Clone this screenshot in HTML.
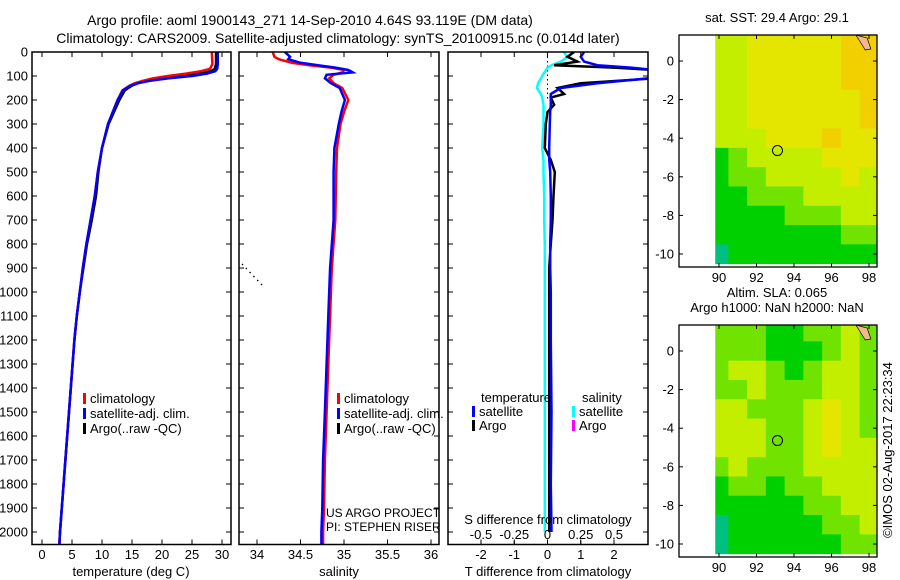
<!DOCTYPE html>
<html><head><meta charset="utf-8">
<style>
html,body{margin:0;padding:0;background:#fff;}
svg{display:block;font-family:"Liberation Sans",sans-serif;}
</style></head>
<body>
<svg id="chart" width="900" height="580" viewBox="0 0 900 580" xmlns="http://www.w3.org/2000/svg">
<g font-size="14" text-anchor="middle" fill="#000">
<text x="310" y="25">Argo profile: aoml 1900143_271 14-Sep-2010 4.64S 93.119E (DM data)</text>
<text x="338" y="43">Climatology: CARS2009. Satellite-adjusted climatology: synTS_20100915.nc (0.014d later)</text>
</g>
<g id="p1"></g>
<g id="p2"></g>
<g id="p3"></g>
<g id="m1"></g>
<g id="m2"></g>
<text transform="translate(892,450) rotate(-90)" font-size="13" text-anchor="middle">©IMOS 02-Aug-2017 22:23:34</text>
</svg>
<script>
// ---- data ----
const depthTicks = [0,100,200,300,400,500,600,700,800,900,1000,1100,1200,1300,1400,1500,1600,1700,1800,1900,2000];
const tempTicks = [0,5,10,15,20,25,30];
const salTicks = [34,34.5,35,35.5,36];
const salTickLabels = ['34','34.5','35','35.5','36'];
const tdiffTicks = [-2,-1,0,1,2];
const sdiffTicks = [-0.5,-0.25,0,0.25,0.5];
const sdiffTickLabels = ['-0.5','-0.25','0','0.25','0.5'];

const tDepth = [0,50,70,80,90,100,110,120,130,140,160,200,250,300,400,500,600,700,800,900,1000,1100,1200,1300,1400,1500,1600,1700,1800,1900,2000,2050];
const tClim  = [28.3,28.4,28.0,26.5,24,21,18.5,16.8,15.5,14.6,13.4,12.6,11.8,11.0,10.0,9.3,8.8,8.1,7.4,6.8,6.3,5.8,5.4,5.1,4.8,4.5,4.2,3.9,3.6,3.3,3.0,2.9];
const tSat   = [29.3,29.3,29.2,28.9,27.5,25,21,18,16,14.8,13.5,12.6,11.8,11.0,10.0,9.3,8.8,8.1,7.4,6.8,6.3,5.8,5.4,5.1,4.8,4.5,4.2,3.9,3.6,3.3,3.0,2.9];
const tArgo  = [29.0,29.0,28.8,28.2,26.5,23.5,20,17.5,16,15,13.8,12.9,12.0,11.1,10.0,9.4,9.0,8.3,7.5,6.9,6.3,5.8,5.4,5.1,4.8,4.5,4.2,3.9,3.6,3.3,3.0,2.9];

const sDepth = [0,20,30,45,55,65,75,85,95,110,130,150,200,250,300,400,500,700,900,1100,1300,1500,1700,1900,2000,2050];
const sClim  = [34.18,34.2,34.25,34.4,34.6,34.85,35.0,34.98,34.88,34.83,34.88,34.98,35.05,35.0,34.96,34.92,34.91,34.9,34.86,34.84,34.82,34.8,34.78,34.77,34.76,34.76];
const sSat   = [34.32,34.38,34.36,34.5,34.7,34.9,35.05,35.1,34.8,34.78,34.85,34.95,35.01,34.97,34.94,34.89,34.88,34.88,34.84,34.82,34.8,34.78,34.76,34.75,34.74,34.74];

const dDepth = [0,20,40,55,65,75,90,110,130,150,175,190,220,250,300,400,450,500,600,700,800,900,1000,1200,1500,1800,2000];
const dTSat  = [1.1,1.0,1.1,1.5,2.5,3.2,3.2,3.0,1.5,0.4,0.1,0.1,0.1,0.08,0.07,0.05,0.05,0.08,0.1,0.1,0.08,0.08,0.1,0.1,0.12,0.1,0.12];
const dTArgo = [0.8,0.6,0.9,0.2,2.0,3.2,3.2,3.2,1.0,0.3,0.5,0.1,0.2,0.0,-0.05,-0.08,0.1,0.22,0.18,0.15,0.1,0.05,0.05,0.05,0.05,0.05,0.05];
const dSSat  = [0.12,0.15,0.1,0.03,0.0,-0.01,-0.03,-0.05,-0.07,-0.08,-0.05,-0.04,-0.03,-0.03,-0.03,-0.04,-0.03,-0.03,-0.025,-0.025,-0.02,-0.02,-0.02,-0.02,-0.02,-0.02,-0.02];

const lonTicks = [90,92,94,96,98];
const latTicks = [0,-2,-4,-6,-8,-10];
const mapLons = [90,91,92,93,94,95,96,97,98];
const mapLats = [1,0,-1,-2,-3,-4,-5,-6,-7,-8,-9,-10];
const sstGrid = [
 [3,3,4,4,4,4,4,5,5],
 [3,3,4,4,4,4,4,5,5],
 [3,3,4,4,4,4,4,5,5],
 [3,3,4,4,4,4,4,4,5],
 [3,3,4,4,4,4,4,4,5],
 [3,3,3,4,4,4,5,4,4],
 [1,2,3,3,3,3,4,4,4],
 [1,2,2,3,3,3,3,4,3],
 [1,1,2,2,2,3,3,3,3],
 [1,1,1,1,2,2,2,3,3],
 [1,1,1,1,1,1,1,2,2],
 [0,1,1,1,1,1,1,1,1]];
const slaGrid = [
 [2,2,2,1,1,2,2,3,2],
 [2,2,2,1,1,1,2,3,2],
 [2,3,3,2,1,2,3,3,2],
 [2,2,3,2,2,2,3,3,2],
 [3,3,2,2,2,3,4,3,2],
 [3,3,3,2,2,3,4,3,2],
 [3,3,3,2,2,3,4,3,3],
 [2,3,2,2,2,3,3,3,3],
 [1,2,2,1,2,2,3,3,3],
 [1,1,1,1,1,2,2,3,3],
 [0,1,1,1,1,1,2,2,3],
 [0,1,1,1,1,1,1,2,2]];
const argoLon = 93.119, argoLat = -4.64;

// ---- helpers ----
const NS='http://www.w3.org/2000/svg';
function mk(parent,tag,attrs){const e=document.createElementNS(NS,tag);for(const k in attrs)e.setAttribute(k,attrs[k]);parent.appendChild(e);return e;}
function lin(d0,d1,r0,r1){return v=>r0+(v-d0)*(r1-r0)/(d1-d0);}
const yD = lin(0,2000,52,532);
const TOP=52,BOT=544.5;

function frame(g,x0,x1,name){
  const r=mk(g,'rect',{x:x0,y:TOP,width:x1-x0,height:BOT-TOP,fill:'none',stroke:'#000','stroke-width':1.5});
  
  
}
function yTicks(g,x0,x1,labels){
  depthTicks.forEach(d=>{
    const y=yD(d);
    mk(g,'line',{x1:x0,x2:x0+5,y1:y,y2:y,stroke:'#000'});
    mk(g,'line',{x1:x1-5,x2:x1,y1:y,y2:y,stroke:'#000'});
    if(labels){const t=mk(g,'text',{x:x0-4,y:y+4.5,'font-size':13,'text-anchor':'end'});t.textContent=d;
      
      }
  });
}
function xTicks(g,ticks,labs,sx,ybase,showLab){
  ticks.forEach((v,i)=>{
    const x=sx(v);
    mk(g,'line',{x1:x,x2:x,y1:BOT,y2:BOT-5,stroke:'#000'});
    mk(g,'line',{x1:x,x2:x,y1:TOP,y2:TOP+5,stroke:'#000'});
    if(showLab){const t=mk(g,'text',{x:x,y:ybase,'font-size':13,'text-anchor':'middle'});t.textContent=labs[i];
      
      }
  });
}
function line(g,xs,ds,sx,color,name,w){
  const pts=xs.map((v,i)=>sx(v).toFixed(1)+','+yD(ds[i]).toFixed(1)).join(' ');
  const p=mk(g,'polyline',{points:pts,fill:'none',stroke:color,'stroke-width':w||2.5});
  
  
}
function legend(g,x,y,color,label){
  mk(g,'rect',{x:x,y:y-10,width:3,height:11,fill:color});
  const t=mk(g,'text',{x:x+7,y:y,'font-size':13});t.textContent=label;
  
  
}
function txt(g,x,y,s,anchor,name,size){
  const t=mk(g,'text',{x:x,y:y,'font-size':size||13,'text-anchor':anchor||'start'});t.textContent=s;
  
  
}

// ---- panel 1: temperature ----
const p1=document.getElementById('p1');
const sT=lin(0,30,42,222);
const clip1=mk(p1,'clipPath',{id:'c1'});mk(clip1,'rect',{x:32,y:TOP,width:199,height:BOT-TOP});
const g1=mk(p1,'g',{'clip-path':'url(#c1)'});
line(g1,tArgo,tDepth,sT,'#000','temp-argo-line');
line(g1,tClim,tDepth,sT,'#f00','temp-climatology-line');
line(g1,tSat,tDepth,sT,'#00f','temp-satellite-line');
frame(p1,32,231,'temperature-axes-frame');
yTicks(p1,32,231,true);
xTicks(p1,tempTicks,tempTicks,sT,559,true);
txt(p1,131,576,'temperature (deg C)','middle','temperature-axis-title');
legend(p1,83,403,'#f00','climatology');
legend(p1,83,418,'#00f','satellite-adj. clim.');
legend(p1,83,433,'#000','Argo(..raw -QC)');

// ---- panel 2: salinity ----
const p2=document.getElementById('p2');
const sS=lin(34,36,257,431);
const clip2=mk(p2,'clipPath',{id:'c2'});mk(clip2,'rect',{x:239,y:TOP,width:200,height:BOT-TOP});
const g2=mk(p2,'g',{'clip-path':'url(#c2)'});
line(g2,sClim,sDepth,sS,'#f00','salinity-climatology-line');
line(g2,sSat,sDepth,sS,'#00f','salinity-satellite-line');
mk(p2,'line',{x1:242,y1:264,x2:263,y2:286,stroke:'#000','stroke-width':1.3,'stroke-dasharray':'1.5 4'});
frame(p2,239,439,'salinity-axes-frame');
yTicks(p2,239,439,false);
xTicks(p2,salTicks,salTickLabels,sS,559,true);
txt(p2,339,576,'salinity','middle','salinity-axis-title');
legend(p2,337,403,'#f00','climatology');
legend(p2,337,418,'#00f','satellite-adj. clim.');
legend(p2,337,433,'#000','Argo(..raw -QC)');
txt(p2,326,517,'US ARGO PROJECT','start','project-label',12);
txt(p2,326,531,'PI: STEPHEN RISER','start','pi-label',12);

// ---- panel 3: differences ----
const p3=document.getElementById('p3');
const sTd=lin(-2,2,481,614);
const sSd=lin(-0.5,0.5,481,614);
const clip3=mk(p3,'clipPath',{id:'c3'});mk(clip3,'rect',{x:448,y:TOP,width:200,height:BOT-TOP});
const g3=mk(p3,'g',{'clip-path':'url(#c3)'});
mk(g3,'line',{x1:sTd(0),x2:sTd(0),y1:TOP,y2:yD(200),stroke:'#000','stroke-dasharray':'1.5 3'});
line(g3,dSSat,dDepth,sSd,'#0ff','s-diff-satellite-line');
line(g3,dTArgo,dDepth,sTd,'#000','t-diff-argo-line');
line(g3,dTSat,dDepth,sTd,'#00f','t-diff-satellite-line');
frame(p3,448,648,'difference-axes-frame');
yTicks(p3,448,648,false);
xTicks(p3,tdiffTicks,tdiffTicks,sTd,559,true);
sdiffTicks.forEach((v,i)=>{const x=sSd(v);mk(p3,'line',{x1:x,x2:x,y1:BOT,y2:BOT-4,stroke:'#000'});
  txt(p3,x,539,sdiffTickLabels[i],'middle','s-diff-tick-label');});
txt(p3,548,524,'S difference from climatology','middle','s-diff-axis-title');
txt(p3,548,576,'T difference from climatology','middle','t-diff-axis-title');
txt(p3,481,402,'temperature','start','legend-temperature-heading');
txt(p3,582,402,'salinity','start','legend-salinity-heading');
legend(p3,472,416,'#00f','satellite');
legend(p3,472,430,'#000','Argo');
legend(p3,572,416,'#0ff','satellite');
legend(p3,572,430,'#f0f','Argo');

// ---- maps ----
const palette=['#00c080','#00d000','#70e400','#c4ee00','#e4e600','#f2d000','#f0b400'];
function drawMap(id,grid,y0,titleLines,name){
  const g=document.getElementById(id);
  const X=lin(90,98,719,869);
  const Y=lin(0,-10,y0+26,y0+219);
  const x0=679,x1=877,yt=y0,yb=y0+232;
  const cl=mk(g,'clipPath',{id:'cl'+id});mk(cl,'rect',{x:x0,y:yt,width:x1-x0,height:yb-yt});
  const gg=mk(g,'g',{'clip-path':'url(#cl'+id+')'});
  grid.forEach((row,r)=>row.forEach((v,c)=>{
    const lon=mapLons[c],lat=mapLats[r];
    const xa=Math.max(X(lon-0.5),X(89.8)), xb=X(lon+0.5);
    const rc=mk(gg,'rect',{x:xa,y:Y(lat+0.5),width:xb-xa+0.5,height:Y(lat-0.5)-Y(lat+0.5)+0.5,fill:palette[v]});
    
    
  }));
  mk(gg,'path',{d:`M${X(97.3)},${yt} L${X(97.9)},${yt+3} L${X(98.1)},${yt+14} L${X(97.8)},${yt+15} L${X(97.5)},${yt+6} Z`,fill:'#f4b88c',stroke:'#000','stroke-width':0.7});
  const c=mk(g,'circle',{cx:X(argoLon),cy:Y(argoLat),r:5,fill:'none',stroke:'#000','stroke-width':1});
  
  
  const fr=mk(g,'rect',{x:x0,y:yt,width:x1-x0,height:yb-yt,fill:'none',stroke:'#000','stroke-width':1.3});
  
  
  lonTicks.forEach(v=>{const x=X(v);mk(g,'line',{x1:x,x2:x,y1:yb,y2:yb-4,stroke:'#000'});mk(g,'line',{x1:x,x2:x,y1:yt,y2:yt+4,stroke:'#000'});
    txt(g,x,yb+15,String(v),'middle','lon-tick-label');});
  latTicks.forEach(v=>{const y=Y(v);mk(g,'line',{x1:x0,x2:x0+4,y1:y,y2:y,stroke:'#000'});mk(g,'line',{x1:x1-4,x2:x1,y1:y,y2:y,stroke:'#000'});
    txt(g,x0-5,y+4.5,String(v),'end','lat-tick-label');});
  titleLines.forEach((s,i)=>txt(g,777,yt-13-(titleLines.length-1-i)*15,s,'middle',name+'-title'));
}
drawMap('m1',sstGrid,35,['sat. SST: 29.4  Argo: 29.1'],'sst-map');
drawMap('m2',slaGrid,325,['Altim. SLA: 0.065','Argo h1000: NaN h2000: NaN'],'sla-map');
</script>
</body></html>
